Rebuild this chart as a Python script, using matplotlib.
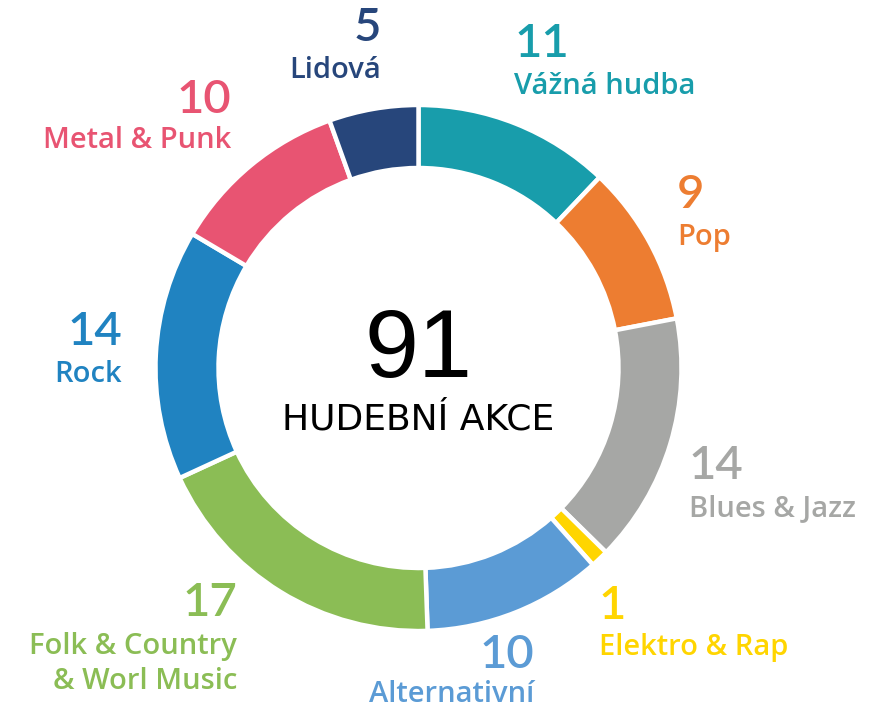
import matplotlib.pyplot as plt

# data, clockwise from 12 o'clock
categories = ["Vážná hudba", "Pop", "Blues & Jazz", "Elektro & Rap", "Alternativní",
              "Folk & Country\n& Worl Music", "Rock", "Metal & Punk", "Lidová"]
values = [11, 9, 14, 1, 10, 17, 14, 10, 5]
colors = ["#189DAB", "#ED7D31", "#A6A7A5", "#FFD500", "#5B9BD5",
          "#8BBD55", "#2083C1", "#E85472", "#27467B"]
total = sum(values)

W, H = 883, 716
fig = plt.figure(figsize=(W / 100, H / 100), dpi=100)
ax = fig.add_axes([0, 0, 1, 1])

cx, cy, r = 418.5, H - 368, 263
ax.pie(values, colors=colors, startangle=90, counterclock=False,
       center=(cx, cy), radius=r,
       wedgeprops=dict(width=63, edgecolor="white", linewidth=3.2))
ax.set_xlim(0, W)
ax.set_ylim(0, H)
ax.set_aspect("equal")
ax.axis("off")

# label layout in pixels: (x, number y, label y, alignment)
label_pos = [
    (514, 44, 86, "left"),
    (677, 195, 237, "left"),
    (689, 466, 509, "left"),
    (599, 606, 648, "left"),
    (534, 655, 695, "right"),
    (237, 603, 664, "right"),
    (122, 332, 374, "right"),
    (231, 100, 140, "right"),
    (381, 28, 70, "right"),
]

num_font = ["Lato", "DejaVu Sans"]
lab_font = ["Open Sans", "DejaVu Sans"]
for cat, val, col, (x, yn, yl, ha) in zip(categories, values, colors, label_pos):
    fig.text(x / W, 1 - yn / H, str(val), color=col, ha=ha, va="center",
             fontsize=34, family=num_font, fontweight="semibold")
    fig.text(x / W, 1 - yl / H, cat, color=col, ha=ha, va="center",
             fontsize=21, family=lab_font, fontweight="semibold",
             linespacing=1.3, multialignment=ha)

fig.text(cx / W, 1 - 352 / H, str(total), ha="center", va="center",
         fontsize=70, family=["Liberation Sans", "DejaVu Sans"], color="black")
fig.text(cx / W, 1 - 419 / H, "HUDEBNÍ AKCE", ha="center", va="center",
         fontsize=26, family=["DejaVu Sans"], color="black")

fig.savefig("out.png", dpi=100)
